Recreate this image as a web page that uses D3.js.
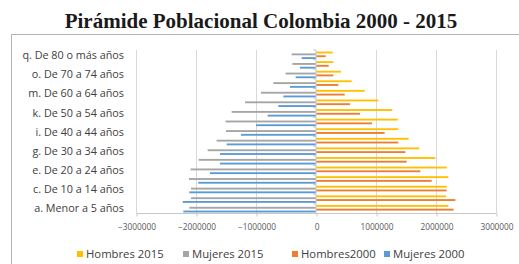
<!DOCTYPE html>
<html>
<head>
<meta charset="utf-8">
<script src="https://cdn.jsdelivr.net/npm/d3@7"></script>
<style>
html, body { margin: 0; padding: 0; background: #fff; }
svg { display: block; }
</style>
</head>
<body>
<svg id="chart" width="519" height="264"></svg>
<script>
// ---- DATA ----
const categories = [
  "a. Menor a 5 años", "b. De 5 a 9 años", "c. De 10 a 14 años", "d. De 15 a 19 años",
  "e. De 20 a 24 años", "f. De 25 a 29 años", "g. De 30 a 34 años", "h. De 35 a 39 años",
  "i. De 40 a 44 años", "j. De 45 a 49 años", "k. De 50 a 54 años", "l. De 55 a 59 años",
  "m. De 60 a 64 años", "n. De 65 a 69 años", "o. De 70 a 74 años", "p. De 75 a 79 años",
  "q. De 80 o más años"
];
const seriesNames = ["Hombres 2015", "Mujeres 2015", "Hombres2000", "Mujeres 2000"];
const hombres2015 = [2206000, 2167000, 2178000, 2206000, 2178000, 1989000, 1722000, 1544000, 1372000, 1361000, 1272000, 1039000, 811000, 594000, 417000, 289000, 278000];
const mujeres2015 = [-2111000, -2083000, -2083000, -2117000, -2089000, -1956000, -1806000, -1656000, -1500000, -1506000, -1406000, -1183000, -917000, -711000, -506000, -394000, -406000];
const hombres2000 = [2294000, 2322000, 2178000, 1928000, 1739000, 1511000, 1489000, 1372000, 1144000, 933000, 733000, 567000, 478000, 372000, 289000, 211000, 161000];
const mujeres2000 = [-2211000, -2222000, -2111000, -1961000, -1767000, -1600000, -1600000, -1489000, -1250000, -1000000, -806000, -628000, -544000, -433000, -339000, -267000, -239000];
const xTicks = [-3000000, -2000000, -1000000, 0, 1000000, 2000000, 3000000];
const shownLabels = ["a. Menor a 5 años", "c. De 10 a 14 años", "e. De 20 a 24 años", "g. De 30 a 34 años",
  "i. De 40 a 44 años", "k. De 50 a 54 años", "m. De 60 a 64 años", "o. De 70 a 74 años", "q. De 80 o más años"];
const colors = ["#FFC000", "#A5A5A5", "#ED7D31", "#5B9BD5"];
const title = "Pirámide Poblacional Colombia 2000 - 2015";

// ---- CHART ----
const svg = d3.select("#chart");
const seriesValues = [hombres2015, mujeres2015, hombres2000, mujeres2000];

// outer chart border
svg.append("rect").attr("x", 11.5).attr("y", 34.5).attr("width", 520).attr("height", 240)
  .attr("fill", "none").attr("stroke", "#b4b4b4").attr("stroke-width", 1);

svg.append("text").attr("x", 261).attr("y", 28).attr("text-anchor", "middle")
  .attr("font-family", "Liberation Serif, Times New Roman, serif").attr("font-weight", "bold")
  .attr("font-size", 21).attr("fill", "#1a1a1a").text(title);

const x = d3.scaleLinear().domain([-3000000, 3000000]).range([136, 496]);
const y = d3.scaleBand().domain(categories.slice().reverse()).range([50.5, 213.5])
  .paddingInner(0.22).paddingOuter(0.11);
const ys = d3.scaleBand().domain(seriesNames).range([0, y.bandwidth()]);

const plotTop = 50, plotBottom = 213.5;

// gridlines
svg.append("g").selectAll("line").data(xTicks.filter(d => d !== 0)).join("line")
  .attr("x1", d => Math.round(x(d)) + 0.5).attr("x2", d => Math.round(x(d)) + 0.5)
  .attr("y1", plotTop).attr("y2", plotBottom)
  .attr("stroke", "#d9d9d9").attr("stroke-width", 1);

// bars
seriesNames.forEach((name, si) => {
  svg.append("g").selectAll("rect").data(categories).join("rect")
    .attr("x", (c, i) => x(Math.min(0, seriesValues[si][i])))
    .attr("width", (c, i) => Math.abs(x(seriesValues[si][i]) - x(0)))
    .attr("y", c => y(c) + ys(name))
    .attr("height", ys.bandwidth())
    .attr("fill", colors[si]);
});

// bottom value axis
const xAxis = d3.axisBottom(x).tickValues(xTicks).tickSize(3).tickFormat(d3.format("d"));
const gx = svg.append("g").attr("transform", `translate(0.5,${plotBottom})`).call(xAxis);
gx.select(".domain").attr("stroke", "#c8c8c8").attr("d", `M${x(-3000000)},0H${x(3000000)}`);
gx.selectAll(".tick line").attr("stroke", "#c8c8c8");
gx.selectAll(".tick text").attr("y", 11).attr("font-family", "Open Sans, sans-serif")
  .attr("font-size", 8.3).attr("fill", "#595959");

// category axis at zero
const yAxis = d3.axisLeft(y).tickSize(0).tickFormat("");
const gy = svg.append("g").attr("transform", `translate(${x(0)},0)`).call(yAxis);
gy.select(".domain").attr("stroke", "#c8c8c8").attr("d", `M0,${plotTop}V${plotBottom}`);
svg.append("g").selectAll("line").data(d3.range(categories.length + 1)).join("line")
  .attr("x1", x(0) - 3).attr("x2", x(0))
  .attr("y1", i => plotBottom - i * (plotBottom - plotTop) / categories.length)
  .attr("y2", i => plotBottom - i * (plotBottom - plotTop) / categories.length)
  .attr("stroke", "#c8c8c8");

// category labels on the left
svg.append("g").selectAll("text").data(shownLabels).join("text")
  .attr("x", 124).attr("y", d => y(d) + y.bandwidth() / 2)
  .attr("dy", "0.35em").attr("text-anchor", "end")
  .attr("font-family", "Open Sans, sans-serif").attr("font-size", 10.8).attr("fill", "#404040")
  .text(d => d);

// legend
const legendX = [77, 183, 292, 384];
const lg = svg.append("g").selectAll("g").data(seriesNames).join("g")
  .attr("transform", (d, i) => `translate(${legendX[i]},254)`);
lg.append("rect").attr("x", 0).attr("y", -3).attr("width", 6).attr("height", 6)
  .attr("fill", (d, i) => colors[i]);
lg.append("text").attr("x", 9).attr("y", 0).attr("dy", "0.35em")
  .attr("font-family", "Open Sans, sans-serif").attr("font-size", 11.3).attr("fill", "#404040")
  .text(d => d);
</script>
</body>
</html>
